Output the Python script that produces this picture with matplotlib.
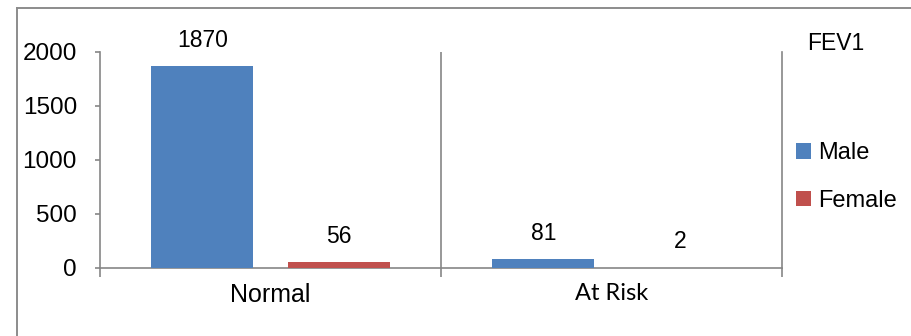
import matplotlib
matplotlib.use("Agg")
import matplotlib.pyplot as plt
from matplotlib.lines import Line2D
import numpy as np

categories = ["Normal", "At Risk"]
male = [1870, 81]
female = [56, 2]
series_names = ["Male", "Female"]
y_ticks = [0, 500, 1000, 1500, 2000]
chart_title = "FEV1"

BLUE = "#4F81BD"
RED = "#C0504D"
AXIS_GRAY = "#868686"

plt.rcParams["font.family"] = ["Liberation Sans", "DejaVu Sans"]

W, H = 911, 336
fig = plt.figure(figsize=(W / 100, H / 100), dpi=100)
ax = fig.add_axes([100 / W, 1 - 268 / H, (782 - 100) / W, (268 - 52) / H])

x = np.arange(len(categories))
bw = 0.3
off = 0.2
b1 = ax.bar(x - off, male, bw, color=BLUE, label=series_names[0], zorder=3)
b2 = ax.bar(x + off, female, bw, color=RED, label=series_names[1], zorder=3)

for bars, vals in ((b1, male), (b2, female)):
    for rect, v in zip(bars, vals):
        ax.annotate(f"{v}", (rect.get_x() + rect.get_width() / 2, v),
                    xytext=(0, 14), textcoords="offset points",
                    ha="center", va="baseline", fontsize=16.5, color="black")

ax.set_xlim(-0.5, len(categories) - 0.5)
ax.set_ylim(0, 2000)
ax.set_yticks(y_ticks)
ax.tick_params(axis="y", direction="out", length=3.6, width=1.2,
               color=AXIS_GRAY, pad=13, labelsize=17.5)

# category boundaries as major ticks, category names as minor ticks
ax.set_xticks(np.arange(-0.5, len(categories), 1.0))
ax.set_xticklabels([])
ax.set_xticks(x, minor=True)
ax.set_xticklabels(categories, minor=True)
ax.tick_params(axis="x", which="major", direction="out", length=6.5,
               width=1.2, color=AXIS_GRAY)
ax.tick_params(axis="x", which="minor", length=0, pad=11, labelsize=18)
ax.get_xticklabels(minor=True)[1].set_family(["Lato", "DejaVu Sans"])
ax.get_xticklabels(minor=True)[1].set_fontsize(17)

for i in range(1, len(categories)):
    ax.axvline(i - 0.5, color=AXIS_GRAY, lw=1.2, zorder=2)

for side in ("left", "bottom", "right"):
    ax.spines[side].set_color(AXIS_GRAY)
    ax.spines[side].set_linewidth(1.2)
ax.spines["top"].set_visible(False)

leg = fig.legend(handles=[b1, b2], labels=series_names,
                 loc="center left", bbox_to_anchor=(796 / W, 1 - 177 / H),
                 frameon=False, fontsize=17, handlelength=0.64,
                 handleheight=0.64, handletextpad=0.3, labelspacing=1.09,
                 borderpad=0, borderaxespad=0)

fig.text(807 / W, 1 - 44 / H, chart_title, fontsize=16.5, va="center", ha="left")

# chart area border
fig.add_artist(Line2D([16.5 / W, 16.5 / W], [0, 1 - 7.5 / H],
                      transform=fig.transFigure, color="#8C8C8C", lw=1.4))
fig.add_artist(Line2D([16.5 / W, 1], [1 - 7.5 / H, 1 - 7.5 / H],
                      transform=fig.transFigure, color="#8C8C8C", lw=1.4))

fig.savefig("out.png", dpi=100)
